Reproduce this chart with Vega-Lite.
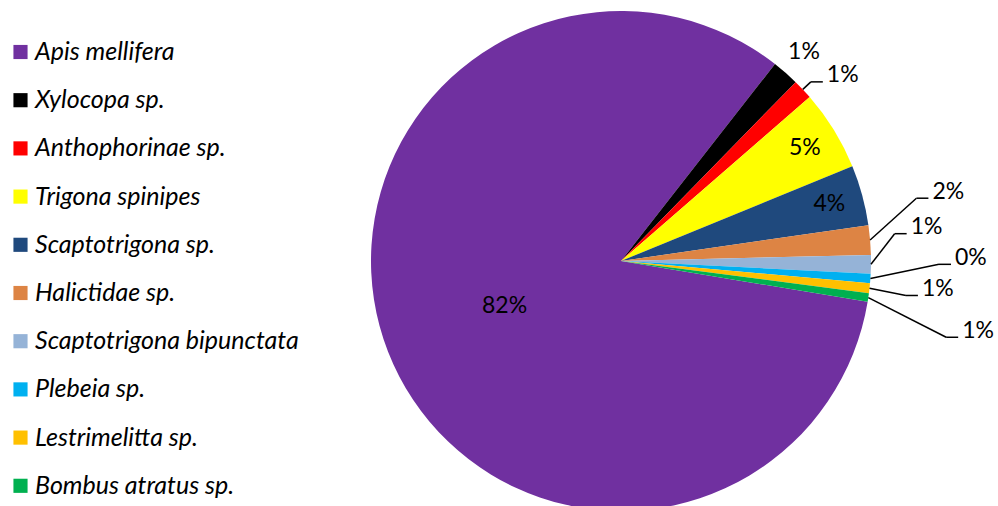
{
  "$schema": "https://vega.github.io/schema/vega-lite/v6.json",
  "width": 500,
  "height": 490,
  "autosize": "none",
  "padding": {"left": 371, "top": 16, "right": 127, "bottom": 0},
  "background": "white",
  "config": {"view": {"stroke": null}, "font": "Lato"},
  "data": {
    "values": [
      {"species": "Apis mellifera", "value": 82.95, "ord": 0, "label": "82%"},
      {"species": "Xylocopa sp.", "value": 1.75, "ord": 1, "label": "1%"},
      {"species": "Anthophorinae sp.", "value": 1.3, "ord": 2, "label": "1%"},
      {"species": "Trigona spinipes", "value": 5.2, "ord": 3, "label": "5%"},
      {"species": "Scaptotrigona sp.", "value": 3.9, "ord": 4, "label": "4%"},
      {"species": "Halictidae sp.", "value": 1.9, "ord": 5, "label": "2%"},
      {"species": "Scaptotrigona bipunctata", "value": 1.2, "ord": 6, "label": "1%"},
      {"species": "Plebeia sp.", "value": 0.6, "ord": 7, "label": "0%"},
      {"species": "Lestrimelitta sp.", "value": 0.65, "ord": 8, "label": "1%"},
      {"species": "Bombus atratus sp.", "value": 0.55, "ord": 9, "label": "1%"}
    ]
  },
  "layer": [
    {
      "mark": {"type": "arc", "outerRadius": 250},
      "encoding": {
        "theta": {"field": "value", "type": "quantitative", "stack": true, "scale": {"range": [1.73486, 8.01805]}},
        "order": {"field": "ord", "type": "quantitative"},
        "color": {
          "field": "species",
          "type": "nominal",
          "scale": {
            "domain": ["Apis mellifera", "Xylocopa sp.", "Anthophorinae sp.", "Trigona spinipes", "Scaptotrigona sp.", "Halictidae sp.", "Scaptotrigona bipunctata", "Plebeia sp.", "Lestrimelitta sp.", "Bombus atratus sp."],
            "range": ["#7030A0", "#000000", "#FF0000", "#FFFF00", "#1F497D", "#DD8444", "#95B3D7", "#00B0F0", "#FFC000", "#00B050"]
          },
          "legend": {
            "title": null,
            "orient": "none",
            "direction": "vertical",
            "legendX": -363,
            "legendY": 23.5,
            "symbolType": "square",
            "symbolSize": 200,
            "symbolStrokeWidth": 0,
            "labelFont": "Lato",
            "labelFontStyle": "italic",
            "labelFontSize": 25,
            "labelColor": "#000000",
            "labelOffset": 2,
            "rowPadding": 22.2,
            "labelLimit": 400
          }
        }
      }
    },
    {
      "transform": [
        {"joinaggregate": [{"op": "sum", "field": "value", "as": "total"}]},
        {"window": [{"op": "sum", "field": "value", "as": "cum"}], "sort": [{"field": "ord"}], "frame": [null, 0]},
        {"calculate": "1.73486 + 2*PI*(datum.cum - datum.value/2)/datum.total", "as": "mid"},
        {"filter": "!(datum.ord >= 2 && datum.value < 3)"},
        {"calculate": "datum.value > 50 ? 125 : (datum.value >= 3 ? 216 : 278)", "as": "lr"},
        {"calculate": "datum.lr*sin(datum.mid)", "as": "tx"},
        {"calculate": "-datum.lr*cos(datum.mid)", "as": "ty"}
      ],
      "mark": {"type": "text", "font": "Lato", "fontSize": 23, "color": "#000000", "align": "center", "baseline": "middle"},
      "encoding": {
        "x": {"field": "tx", "type": "quantitative", "scale": {"domain": [-250, 250], "nice": false, "zero": false}, "axis": null},
        "y": {"field": "ty", "type": "quantitative", "scale": {"domain": [-245, 245], "nice": false, "zero": false, "reverse": true}, "axis": null},
        "text": {"field": "label"}
      }
    },
    {
      "transform": [
        {"joinaggregate": [{"op": "sum", "field": "value", "as": "total"}]},
        {"window": [{"op": "sum", "field": "value", "as": "cum"}], "sort": [{"field": "ord"}], "frame": [null, 0]},
        {"calculate": "1.73486 + 2*PI*(datum.cum - datum.value/2)/datum.total", "as": "mid"},
        {"filter": "datum.ord >= 2 && datum.value < 3"},
        {"calculate": "datum.ord - 5", "as": "k"},
        {"calculate": "datum.ord >= 5 ? (78 + 6.3*datum.k)*PI/180 : datum.mid", "as": "ea"},
        {"calculate": "datum.ord >= 5 ? (datum.k % 2 == 0 ? 302 + 8*datum.k : 269 + 6*datum.k) : 261", "as": "er"},
        {"calculate": "datum.er*sin(datum.ea)", "as": "ex"},
        {"calculate": "-datum.er*cos(datum.ea)", "as": "ey"},
        {"calculate": "250*sin(datum.mid)", "as": "rx"},
        {"calculate": "-250*cos(datum.mid)", "as": "ry"},
        {"calculate": "datum.ex + 12", "as": "hx"},
        {"calculate": "datum.ex + 16", "as": "lx"},
        {"calculate": "datum.ey - 6.5", "as": "ly"}
      ],
      "layer": [
        {
          "mark": {"type": "rule", "color": "#000000", "strokeWidth": 1.5},
          "encoding": {
            "x": {"field": "rx", "type": "quantitative"},
            "y": {"field": "ry", "type": "quantitative"},
            "x2": {"field": "ex"},
            "y2": {"field": "ey"}
          }
        },
        {
          "mark": {"type": "rule", "color": "#000000", "strokeWidth": 1.5},
          "encoding": {
            "x": {"field": "ex", "type": "quantitative"},
            "y": {"field": "ey", "type": "quantitative"},
            "x2": {"field": "hx"},
            "y2": {"field": "ey"}
          }
        },
        {
          "mark": {"type": "text", "font": "Lato", "fontSize": 23, "color": "#000000", "align": "left", "baseline": "middle"},
          "encoding": {
            "x": {"field": "lx", "type": "quantitative"},
            "y": {"field": "ly", "type": "quantitative"},
            "text": {"field": "label"}
          }
        }
      ]
    }
  ]
}
